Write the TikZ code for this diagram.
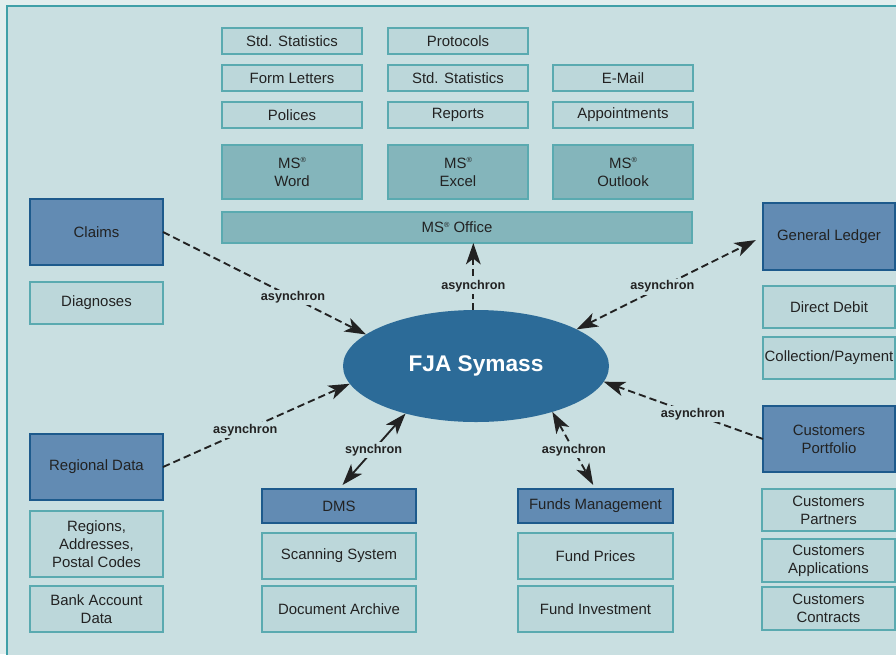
\documentclass[tikz,border=0pt]{standalone}
\usepackage{fontspec}
\setmainfont{Liberation Sans}
\usetikzlibrary{arrows.meta,shapes.geometric}
\definecolor{outbg}{HTML}{E1EEEE}
\definecolor{inbg}{HTML}{C9DFE1}
\definecolor{lfill}{HTML}{BCD7DA}
\definecolor{ldraw}{HTML}{5AAAB0}
\definecolor{tfill}{HTML}{84B5BB}
\definecolor{bfill}{HTML}{628BB3}
\definecolor{bdraw}{HTML}{1D5A8C}
\definecolor{efill}{HTML}{2C6B98}
\definecolor{txt}{HTML}{222222}
\definecolor{framec}{HTML}{3FA0A8}
\newcommand\reg{\raisebox{0.75ex}{\fontsize{5.5}{6}\selectfont ®}}
\newcommand\mkbox[7]{\node[#1, minimum width={(#5-#3)*0.75pt}, minimum height={(#6-#4)*0.75pt}] (#2) at ({(#3+#5)/2},{(#4+#6)/2}) {#7};}
\tikzset{
 base/.style={inner sep=0pt, outer sep=0pt, align=center, text=txt, font=\fontsize{11.2}{13.5}\selectfont, line width=1pt},
 lbox/.style={base, fill=lfill, draw=ldraw},
 tbox/.style={base, fill=tfill, draw=ldraw},
 bbox/.style={base, fill=bfill, draw=bdraw},
 tipa/.tip={Stealth[length=16pt,width=11pt,inset=4.3pt]},
 conn/.style={line width=1.4pt, draw=txt, dash pattern=on 5.5pt off 3pt, -tipa},
 both/.style={conn, tipa-tipa},
 sync/.style={line width=1.4pt, draw=txt, tipa-tipa},
 lab/.style={fill=inbg, inner sep=1.5pt, font=\bfseries\fontsize{9.5}{11}\selectfont, text=txt},
}
\begin{document}
\begin{tikzpicture}[x=0.75pt,y=-0.75pt]
\useasboundingbox (0,0) rectangle (896,654);
\begin{scope}
\clip (0,0) rectangle (896,654);
\fill[outbg] (0,0) rectangle (896,654);
\filldraw[fill=inbg, draw=framec, line width=1.2pt] (7,6) rectangle (920,680);
\end{scope}
% top
\mkbox{lbox}{ssa}{222}{28}{362}{54}{Std. Statistics}
\mkbox{lbox}{prot}{388}{28}{528}{54}{Protocols}
\mkbox{lbox}{forml}{222}{65}{362}{91}{Form Letters}
\mkbox{lbox}{ssb}{388}{65}{528}{91}{Std. Statistics}
\mkbox{lbox}{email}{553}{65}{693}{91}{E-Mail}
\mkbox{lbox}{pol}{222}{102}{362}{128}{Polices}
\mkbox{lbox}{rep}{388}{102}{528}{128}{Reports}
\mkbox{lbox}{appt}{553}{102}{693}{128}{Appointments}
\mkbox{tbox}{word}{222}{145}{362}{199}{MS\reg\\Word}
\mkbox{tbox}{excel}{388}{145}{528}{199}{MS\reg\\Excel}
\mkbox{tbox}{outl}{553}{145}{693}{199}{MS\reg\\Outlook}
\mkbox{tbox}{office}{222}{212}{692}{243}{MS\reg{} Office}
% left
\mkbox{bbox}{claims}{30}{199}{163}{265}{Claims}
\mkbox{lbox}{diag}{30}{282}{163}{324}{Diagnoses}
\mkbox{bbox}{regional}{30}{434}{163}{500}{Regional Data}
\mkbox{lbox}{regions}{30}{511}{163}{577}{Regions,\\Addresses,\\Postal Codes}
\mkbox{lbox}{bank}{30}{586}{163}{632}{Bank Account\\Data}
% right
\mkbox{bbox}{gl}{763}{203}{895}{270}{General Ledger}
\mkbox{lbox}{dd}{763}{286}{895}{328}{Direct Debit}
\mkbox{lbox}{coll}{763}{337}{895}{379}{Collection/Payment}
\mkbox{bbox}{cp}{763}{406}{895}{472}{Customers\\Portfolio}
\mkbox{lbox}{cpart}{762}{489}{895}{531}{Customers\\Partners}
\mkbox{lbox}{capp}{762}{539}{895}{582}{Customers\\Applications}
\mkbox{lbox}{ccon}{762}{587}{895}{630}{Customers\\Contracts}
% bottom
\mkbox{bbox}{dms}{262}{489}{416}{523}{DMS}
\mkbox{lbox}{scan}{262}{533}{416}{579}{Scanning System}
\mkbox{lbox}{docarch}{262}{586}{416}{632}{Document Archive}
\mkbox{bbox}{fm}{518}{489}{673}{523}{Funds Management}
\mkbox{lbox}{fprice}{518}{533}{673}{579}{Fund Prices}
\mkbox{lbox}{finv}{518}{586}{673}{632}{Fund Investment}
% centre
\node[ellipse, fill=efill, inner sep=0pt, outer sep=0pt, minimum width={266*0.75pt}, minimum height={112*0.75pt}, text=white, font=\bfseries\fontsize{17}{20}\selectfont] (ell) at (476,366) {FJA Symass};
% connectors
\draw[conn] (claims.east) -- node[lab,pos=0.64]{asynchron} (ell.164);
\draw[conn] (regional.east) -- node[lab,pos=0.44]{asynchron} (ell.188);
\draw[conn] ([xshift=-2pt]ell.north) -- node[lab,pos=0.35]{asynchron} ([xshift=-2pt]ell.north |- office.south);
\draw[both, shorten >=6pt] (ell.20) -- node[lab,pos=0.46]{asynchron} (gl.west);
\draw[conn] (cp.west) -- node[lab,pos=0.44]{asynchron} (ell.-7.5);
\draw[both, shorten >=3.5pt] (ell.-31) -- node[lab,pos=0.5]{asynchron} (fm.north);
\draw[sync, shorten >=4pt] (ell.214) -- node[lab,pos=0.48]{synchron} (dms.north);
\end{tikzpicture}
\end{document}
